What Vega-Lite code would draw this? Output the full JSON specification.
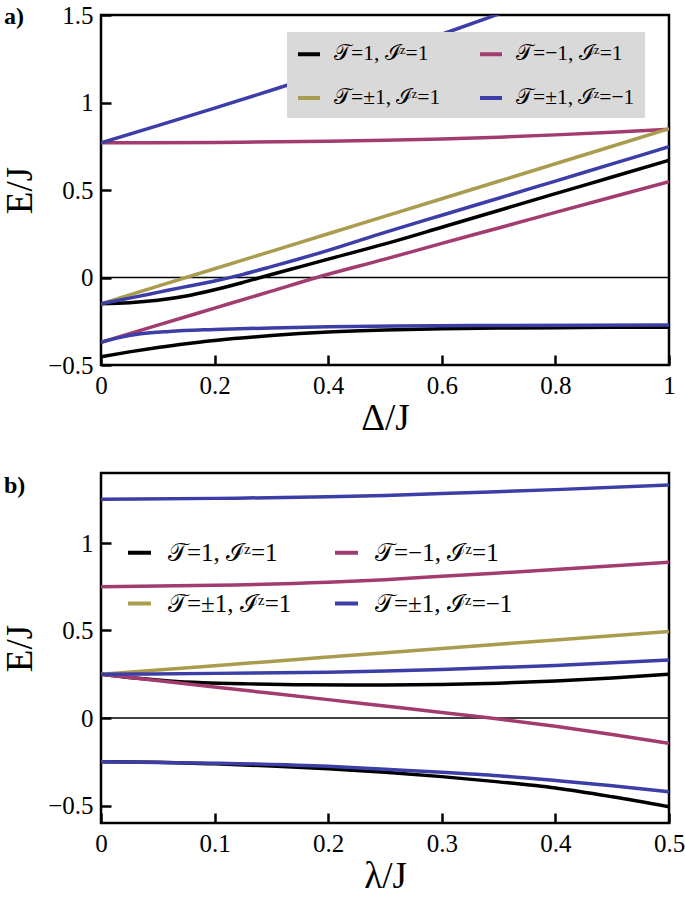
{
  "$schema": "https://vega.github.io/schema/vega-lite/v6.json",
  "padding": {"left": 0, "top": 1, "right": 5, "bottom": 0},
  "background": "white",
  "config": {
    "font": "Liberation Serif",
    "view": {"stroke": "black", "strokeWidth": 2.5},
    "axis": {"domain": false, "grid": false, "ticks": true, "tickColor": "black", "tickWidth": 2.5, "tickSize": -10,
      "labelFont": "Liberation Serif", "labelFontSize": 25, "labelColor": "black", "labelFlush": false, "labelOverlap": false, "labelBound": false,
      "titleFont": "Liberation Serif", "titleFontSize": 37, "titleFontWeight": "normal", "titleColor": "black"},
    "title": {"font": "Liberation Serif", "fontSize": 24, "fontWeight": "bold", "anchor": "start", "frame": "group", "color": "black", "baseline": "alphabetic"},
    "legend": {"labelFont": "Liberation Serif", "labelColor": "black", "symbolType": "stroke", "symbolStrokeWidth": 4, "title": null, "labelLimit": 400}
  },
  "datasets": {
    "a": [
      {"x":0,"E":-0.453,"c":"a1","s":"𝒯=1, ℐᶻ=1"},{"x":0.05,"E":-0.425,"c":"a1","s":"𝒯=1, ℐᶻ=1"},{"x":0.1,"E":-0.4,"c":"a1","s":"𝒯=1, ℐᶻ=1"},{"x":0.15,"E":-0.378,"c":"a1","s":"𝒯=1, ℐᶻ=1"},{"x":0.2,"E":-0.36,"c":"a1","s":"𝒯=1, ℐᶻ=1"},{"x":0.3,"E":-0.332,"c":"a1","s":"𝒯=1, ℐᶻ=1"},{"x":0.4,"E":-0.312,"c":"a1","s":"𝒯=1, ℐᶻ=1"},{"x":0.5,"E":-0.3,"c":"a1","s":"𝒯=1, ℐᶻ=1"},{"x":0.6,"E":-0.293,"c":"a1","s":"𝒯=1, ℐᶻ=1"},{"x":0.7,"E":-0.289,"c":"a1","s":"𝒯=1, ℐᶻ=1"},{"x":0.8,"E":-0.287,"c":"a1","s":"𝒯=1, ℐᶻ=1"},{"x":0.9,"E":-0.285,"c":"a1","s":"𝒯=1, ℐᶻ=1"},{"x":1,"E":-0.284,"c":"a1","s":"𝒯=1, ℐᶻ=1"},
      {"x":0,"E":-0.15,"c":"a2","s":"𝒯=1, ℐᶻ=1"},{"x":0.05,"E":-0.144,"c":"a2","s":"𝒯=1, ℐᶻ=1"},{"x":0.1,"E":-0.13,"c":"a2","s":"𝒯=1, ℐᶻ=1"},{"x":0.15,"E":-0.106,"c":"a2","s":"𝒯=1, ℐᶻ=1"},{"x":0.2,"E":-0.07,"c":"a2","s":"𝒯=1, ℐᶻ=1"},{"x":0.25,"E":-0.028,"c":"a2","s":"𝒯=1, ℐᶻ=1"},{"x":0.3,"E":0.017,"c":"a2","s":"𝒯=1, ℐᶻ=1"},{"x":0.35,"E":0.061,"c":"a2","s":"𝒯=1, ℐᶻ=1"},{"x":0.4,"E":0.105,"c":"a2","s":"𝒯=1, ℐᶻ=1"},{"x":0.5,"E":0.192,"c":"a2","s":"𝒯=1, ℐᶻ=1"},{"x":0.6,"E":0.287,"c":"a2","s":"𝒯=1, ℐᶻ=1"},{"x":0.7,"E":0.383,"c":"a2","s":"𝒯=1, ℐᶻ=1"},{"x":0.8,"E":0.479,"c":"a2","s":"𝒯=1, ℐᶻ=1"},{"x":0.9,"E":0.574,"c":"a2","s":"𝒯=1, ℐᶻ=1"},{"x":1,"E":0.67,"c":"a2","s":"𝒯=1, ℐᶻ=1"},
      {"x":0,"E":-0.37,"c":"a3","s":"𝒯=−1, ℐᶻ=1"},{"x":0.1,"E":-0.272,"c":"a3","s":"𝒯=−1, ℐᶻ=1"},{"x":0.2,"E":-0.175,"c":"a3","s":"𝒯=−1, ℐᶻ=1"},{"x":0.3,"E":-0.078,"c":"a3","s":"𝒯=−1, ℐᶻ=1"},{"x":0.38,"E":0,"c":"a3","s":"𝒯=−1, ℐᶻ=1"},{"x":0.5,"E":0.105,"c":"a3","s":"𝒯=−1, ℐᶻ=1"},{"x":0.6,"E":0.195,"c":"a3","s":"𝒯=−1, ℐᶻ=1"},{"x":0.7,"E":0.283,"c":"a3","s":"𝒯=−1, ℐᶻ=1"},{"x":0.8,"E":0.372,"c":"a3","s":"𝒯=−1, ℐᶻ=1"},{"x":0.9,"E":0.46,"c":"a3","s":"𝒯=−1, ℐᶻ=1"},{"x":1,"E":0.547,"c":"a3","s":"𝒯=−1, ℐᶻ=1"},
      {"x":0,"E":0.77,"c":"a4","s":"𝒯=−1, ℐᶻ=1"},{"x":0.2,"E":0.772,"c":"a4","s":"𝒯=−1, ℐᶻ=1"},{"x":0.4,"E":0.778,"c":"a4","s":"𝒯=−1, ℐᶻ=1"},{"x":0.5,"E":0.784,"c":"a4","s":"𝒯=−1, ℐᶻ=1"},{"x":0.6,"E":0.792,"c":"a4","s":"𝒯=−1, ℐᶻ=1"},{"x":0.7,"E":0.802,"c":"a4","s":"𝒯=−1, ℐᶻ=1"},{"x":0.8,"E":0.815,"c":"a4","s":"𝒯=−1, ℐᶻ=1"},{"x":0.9,"E":0.83,"c":"a4","s":"𝒯=−1, ℐᶻ=1"},{"x":1,"E":0.847,"c":"a4","s":"𝒯=−1, ℐᶻ=1"},
      {"x":0,"E":-0.15,"c":"a5","s":"𝒯=±1, ℐᶻ=1"},{"x":0.2,"E":0.05,"c":"a5","s":"𝒯=±1, ℐᶻ=1"},{"x":0.4,"E":0.25,"c":"a5","s":"𝒯=±1, ℐᶻ=1"},{"x":0.6,"E":0.45,"c":"a5","s":"𝒯=±1, ℐᶻ=1"},{"x":0.8,"E":0.65,"c":"a5","s":"𝒯=±1, ℐᶻ=1"},{"x":1,"E":0.85,"c":"a5","s":"𝒯=±1, ℐᶻ=1"},
      {"x":0,"E":-0.37,"c":"a6","s":"𝒯=±1, ℐᶻ=−1"},{"x":0.03,"E":-0.345,"c":"a6","s":"𝒯=±1, ℐᶻ=−1"},{"x":0.07,"E":-0.322,"c":"a6","s":"𝒯=±1, ℐᶻ=−1"},{"x":0.12,"E":-0.308,"c":"a6","s":"𝒯=±1, ℐᶻ=−1"},{"x":0.2,"E":-0.297,"c":"a6","s":"𝒯=±1, ℐᶻ=−1"},{"x":0.3,"E":-0.288,"c":"a6","s":"𝒯=±1, ℐᶻ=−1"},{"x":0.4,"E":-0.282,"c":"a6","s":"𝒯=±1, ℐᶻ=−1"},{"x":0.52,"E":-0.277,"c":"a6","s":"𝒯=±1, ℐᶻ=−1"},{"x":0.7,"E":-0.274,"c":"a6","s":"𝒯=±1, ℐᶻ=−1"},{"x":1,"E":-0.272,"c":"a6","s":"𝒯=±1, ℐᶻ=−1"},
      {"x":0,"E":-0.15,"c":"a7","s":"𝒯=±1, ℐᶻ=−1"},{"x":0.05,"E":-0.118,"c":"a7","s":"𝒯=±1, ℐᶻ=−1"},{"x":0.1,"E":-0.085,"c":"a7","s":"𝒯=±1, ℐᶻ=−1"},{"x":0.15,"E":-0.052,"c":"a7","s":"𝒯=±1, ℐᶻ=−1"},{"x":0.2,"E":-0.02,"c":"a7","s":"𝒯=±1, ℐᶻ=−1"},{"x":0.25,"E":0.018,"c":"a7","s":"𝒯=±1, ℐᶻ=−1"},{"x":0.3,"E":0.062,"c":"a7","s":"𝒯=±1, ℐᶻ=−1"},{"x":0.4,"E":0.155,"c":"a7","s":"𝒯=±1, ℐᶻ=−1"},{"x":0.5,"E":0.258,"c":"a7","s":"𝒯=±1, ℐᶻ=−1"},{"x":0.6,"E":0.356,"c":"a7","s":"𝒯=±1, ℐᶻ=−1"},{"x":0.7,"E":0.453,"c":"a7","s":"𝒯=±1, ℐᶻ=−1"},{"x":0.8,"E":0.551,"c":"a7","s":"𝒯=±1, ℐᶻ=−1"},{"x":0.9,"E":0.649,"c":"a7","s":"𝒯=±1, ℐᶻ=−1"},{"x":1,"E":0.747,"c":"a7","s":"𝒯=±1, ℐᶻ=−1"},
      {"x":0,"E":0.77,"c":"a8","s":"𝒯=±1, ℐᶻ=−1"},{"x":0.1,"E":0.868,"c":"a8","s":"𝒯=±1, ℐᶻ=−1"},{"x":0.2,"E":0.968,"c":"a8","s":"𝒯=±1, ℐᶻ=−1"},{"x":0.3,"E":1.07,"c":"a8","s":"𝒯=±1, ℐᶻ=−1"},{"x":0.4,"E":1.175,"c":"a8","s":"𝒯=±1, ℐᶻ=−1"},{"x":0.5,"E":1.28,"c":"a8","s":"𝒯=±1, ℐᶻ=−1"},{"x":0.6,"E":1.39,"c":"a8","s":"𝒯=±1, ℐᶻ=−1"},{"x":0.7,"E":1.505,"c":"a8","s":"𝒯=±1, ℐᶻ=−1"}
    ],
    "b": [
      {"x":0,"E":-0.25,"c":"b1","s":"𝒯=1, ℐᶻ=1"},{"x":0.05,"E":-0.253,"c":"b1","s":"𝒯=1, ℐᶻ=1"},{"x":0.1,"E":-0.262,"c":"b1","s":"𝒯=1, ℐᶻ=1"},{"x":0.15,"E":-0.274,"c":"b1","s":"𝒯=1, ℐᶻ=1"},{"x":0.2,"E":-0.29,"c":"b1","s":"𝒯=1, ℐᶻ=1"},{"x":0.25,"E":-0.31,"c":"b1","s":"𝒯=1, ℐᶻ=1"},{"x":0.3,"E":-0.335,"c":"b1","s":"𝒯=1, ℐᶻ=1"},{"x":0.35,"E":-0.365,"c":"b1","s":"𝒯=1, ℐᶻ=1"},{"x":0.4,"E":-0.4,"c":"b1","s":"𝒯=1, ℐᶻ=1"},{"x":0.45,"E":-0.45,"c":"b1","s":"𝒯=1, ℐᶻ=1"},{"x":0.5,"E":-0.507,"c":"b1","s":"𝒯=1, ℐᶻ=1"},
      {"x":0,"E":0.25,"c":"b2","s":"𝒯=1, ℐᶻ=1"},{"x":0.03,"E":0.228,"c":"b2","s":"𝒯=1, ℐᶻ=1"},{"x":0.06,"E":0.212,"c":"b2","s":"𝒯=1, ℐᶻ=1"},{"x":0.09,"E":0.202,"c":"b2","s":"𝒯=1, ℐᶻ=1"},{"x":0.13,"E":0.195,"c":"b2","s":"𝒯=1, ℐᶻ=1"},{"x":0.18,"E":0.19,"c":"b2","s":"𝒯=1, ℐᶻ=1"},{"x":0.25,"E":0.189,"c":"b2","s":"𝒯=1, ℐᶻ=1"},{"x":0.3,"E":0.192,"c":"b2","s":"𝒯=1, ℐᶻ=1"},{"x":0.35,"E":0.199,"c":"b2","s":"𝒯=1, ℐᶻ=1"},{"x":0.4,"E":0.212,"c":"b2","s":"𝒯=1, ℐᶻ=1"},{"x":0.45,"E":0.229,"c":"b2","s":"𝒯=1, ℐᶻ=1"},{"x":0.5,"E":0.25,"c":"b2","s":"𝒯=1, ℐᶻ=1"},
      {"x":0,"E":0.25,"c":"b3","s":"𝒯=−1, ℐᶻ=1"},{"x":0.1,"E":0.177,"c":"b3","s":"𝒯=−1, ℐᶻ=1"},{"x":0.2,"E":0.105,"c":"b3","s":"𝒯=−1, ℐᶻ=1"},{"x":0.26,"E":0.061,"c":"b3","s":"𝒯=−1, ℐᶻ=1"},{"x":0.3,"E":0.032,"c":"b3","s":"𝒯=−1, ℐᶻ=1"},{"x":0.343,"E":0,"c":"b3","s":"𝒯=−1, ℐᶻ=1"},{"x":0.4,"E":-0.047,"c":"b3","s":"𝒯=−1, ℐᶻ=1"},{"x":0.45,"E":-0.094,"c":"b3","s":"𝒯=−1, ℐᶻ=1"},{"x":0.5,"E":-0.145,"c":"b3","s":"𝒯=−1, ℐᶻ=1"},
      {"x":0,"E":0.75,"c":"b4","s":"𝒯=−1, ℐᶻ=1"},{"x":0.1,"E":0.758,"c":"b4","s":"𝒯=−1, ℐᶻ=1"},{"x":0.2,"E":0.776,"c":"b4","s":"𝒯=−1, ℐᶻ=1"},{"x":0.25,"E":0.79,"c":"b4","s":"𝒯=−1, ℐᶻ=1"},{"x":0.3,"E":0.81,"c":"b4","s":"𝒯=−1, ℐᶻ=1"},{"x":0.4,"E":0.848,"c":"b4","s":"𝒯=−1, ℐᶻ=1"},{"x":0.5,"E":0.89,"c":"b4","s":"𝒯=−1, ℐᶻ=1"},
      {"x":0,"E":0.25,"c":"b5","s":"𝒯=±1, ℐᶻ=1"},{"x":0.1,"E":0.299,"c":"b5","s":"𝒯=±1, ℐᶻ=1"},{"x":0.2,"E":0.348,"c":"b5","s":"𝒯=±1, ℐᶻ=1"},{"x":0.3,"E":0.397,"c":"b5","s":"𝒯=±1, ℐᶻ=1"},{"x":0.4,"E":0.446,"c":"b5","s":"𝒯=±1, ℐᶻ=1"},{"x":0.5,"E":0.495,"c":"b5","s":"𝒯=±1, ℐᶻ=1"},
      {"x":0,"E":-0.25,"c":"b6","s":"𝒯=±1, ℐᶻ=−1"},{"x":0.1,"E":-0.258,"c":"b6","s":"𝒯=±1, ℐᶻ=−1"},{"x":0.2,"E":-0.276,"c":"b6","s":"𝒯=±1, ℐᶻ=−1"},{"x":0.25,"E":-0.293,"c":"b6","s":"𝒯=±1, ℐᶻ=−1"},{"x":0.3,"E":-0.31,"c":"b6","s":"𝒯=±1, ℐᶻ=−1"},{"x":0.35,"E":-0.33,"c":"b6","s":"𝒯=±1, ℐᶻ=−1"},{"x":0.4,"E":-0.357,"c":"b6","s":"𝒯=±1, ℐᶻ=−1"},{"x":0.45,"E":-0.387,"c":"b6","s":"𝒯=±1, ℐᶻ=−1"},{"x":0.5,"E":-0.421,"c":"b6","s":"𝒯=±1, ℐᶻ=−1"},
      {"x":0,"E":0.25,"c":"b7","s":"𝒯=±1, ℐᶻ=−1"},{"x":0.1,"E":0.255,"c":"b7","s":"𝒯=±1, ℐᶻ=−1"},{"x":0.2,"E":0.261,"c":"b7","s":"𝒯=±1, ℐᶻ=−1"},{"x":0.25,"E":0.268,"c":"b7","s":"𝒯=±1, ℐᶻ=−1"},{"x":0.3,"E":0.277,"c":"b7","s":"𝒯=±1, ℐᶻ=−1"},{"x":0.4,"E":0.3,"c":"b7","s":"𝒯=±1, ℐᶻ=−1"},{"x":0.5,"E":0.331,"c":"b7","s":"𝒯=±1, ℐᶻ=−1"},
      {"x":0,"E":1.25,"c":"b8","s":"𝒯=±1, ℐᶻ=−1"},{"x":0.1,"E":1.255,"c":"b8","s":"𝒯=±1, ℐᶻ=−1"},{"x":0.2,"E":1.264,"c":"b8","s":"𝒯=±1, ℐᶻ=−1"},{"x":0.25,"E":1.272,"c":"b8","s":"𝒯=±1, ℐᶻ=−1"},{"x":0.3,"E":1.283,"c":"b8","s":"𝒯=±1, ℐᶻ=−1"},{"x":0.4,"E":1.305,"c":"b8","s":"𝒯=±1, ℐᶻ=−1"},{"x":0.5,"E":1.331,"c":"b8","s":"𝒯=±1, ℐᶻ=−1"}
    ],
    "zero": [{"y0": 0}]
  },
  "vconcat": [
    {
      "width": 568, "height": 350,
      "title": {"text": "a)", "dx": -97, "offset": -25.5},
      "layer": [
        {"data": {"name": "zero"}, "mark": {"type": "rule", "color": "black", "strokeWidth": 1.4},
         "encoding": {"y": {"field": "y0", "type": "quantitative"}}},
        {"data": {"name": "a"}, "mark": {"type": "line", "strokeWidth": 3.5, "clip": true, "interpolate": "monotone"},
         "encoding": {
           "x": {"field": "x", "type": "quantitative", "scale": {"domain": [0, 1], "nice": false, "zero": false},
                 "axis": {"values": [0, 0.2, 0.4, 0.6, 0.8, 1], "format": ".1~f", "title": "Δ/J", "labelFont": "Liberation Serif", "labelPadding": 18, "titlePadding": 2}},
           "y": {"field": "E", "type": "quantitative", "scale": {"domain": [-0.5, 1.5], "nice": false, "zero": false},
                 "axis": {"values": [-0.5, 0, 0.5, 1, 1.5], "format": ".1~f", "title": "E/J", "labelFont": "Liberation Serif", "labelPadding": 18, "titlePadding": 8}},
           "color": {"field": "s", "type": "nominal",
                     "scale": {"domain": ["𝒯=1, ℐᶻ=1", "𝒯=−1, ℐᶻ=1", "𝒯=±1, ℐᶻ=1", "𝒯=±1, ℐᶻ=−1"], "range": ["#000000", "#a33c6e", "#a99c4f", "#3d3da8"]},
                     "legend": {"orient": "none", "legendX": 186, "legendY": 17, "direction": "horizontal", "columns": 2,
                                "fillColor": "#d9d9d9", "padding": 9, "symbolSize": 484, "labelFontSize": 21.5, "labelOffset": 12,
                                "columnPadding": 30, "rowPadding": 20}},
           "detail": {"field": "c"},
           "order": {"field": "x", "type": "quantitative"}
         }}
      ]
    },
    {
      "width": 568, "height": 350,
      "title": {"text": "b)", "dx": -97, "offset": -25},
      "layer": [
        {"data": {"name": "zero"}, "mark": {"type": "rule", "color": "black", "strokeWidth": 1.4},
         "encoding": {"y": {"field": "y0", "type": "quantitative"}}},
        {"data": {"name": "b"}, "mark": {"type": "line", "strokeWidth": 3.5, "clip": true, "interpolate": "monotone"},
         "encoding": {
           "x": {"field": "x", "type": "quantitative", "scale": {"domain": [0, 0.5], "nice": false, "zero": false},
                 "axis": {"values": [0, 0.1, 0.2, 0.3, 0.4, 0.5], "format": ".1~f", "title": "λ/J", "labelFont": "Liberation Serif", "labelPadding": 18, "titlePadding": 2}},
           "y": {"field": "E", "type": "quantitative", "scale": {"domain": [-0.6, 1.4], "nice": false, "zero": false},
                 "axis": {"values": [-0.5, 0, 0.5, 1], "format": ".1~f", "title": "E/J", "labelFont": "Liberation Serif", "labelPadding": 18, "titlePadding": 8}},
           "color": {"field": "s", "type": "nominal",
                     "scale": {"domain": ["𝒯=1, ℐᶻ=1", "𝒯=−1, ℐᶻ=1", "𝒯=±1, ℐᶻ=1", "𝒯=±1, ℐᶻ=−1"], "range": ["#000000", "#a33c6e", "#a99c4f", "#3d3da8"]},
                     "legend": {"orient": "none", "legendX": 25, "legendY": 66, "direction": "horizontal", "columns": 2,
                                "padding": 0, "symbolSize": 529, "labelFontSize": 25, "labelOffset": 15,
                                "columnPadding": 34, "rowPadding": 24}},
           "detail": {"field": "c"},
           "order": {"field": "x", "type": "quantitative"}
         }}
      ]
    }
  ],
  "spacing": 33,
  "resolve": {"scale": {"x": "independent", "y": "independent"}, "legend": {"color": "independent"}}
}
